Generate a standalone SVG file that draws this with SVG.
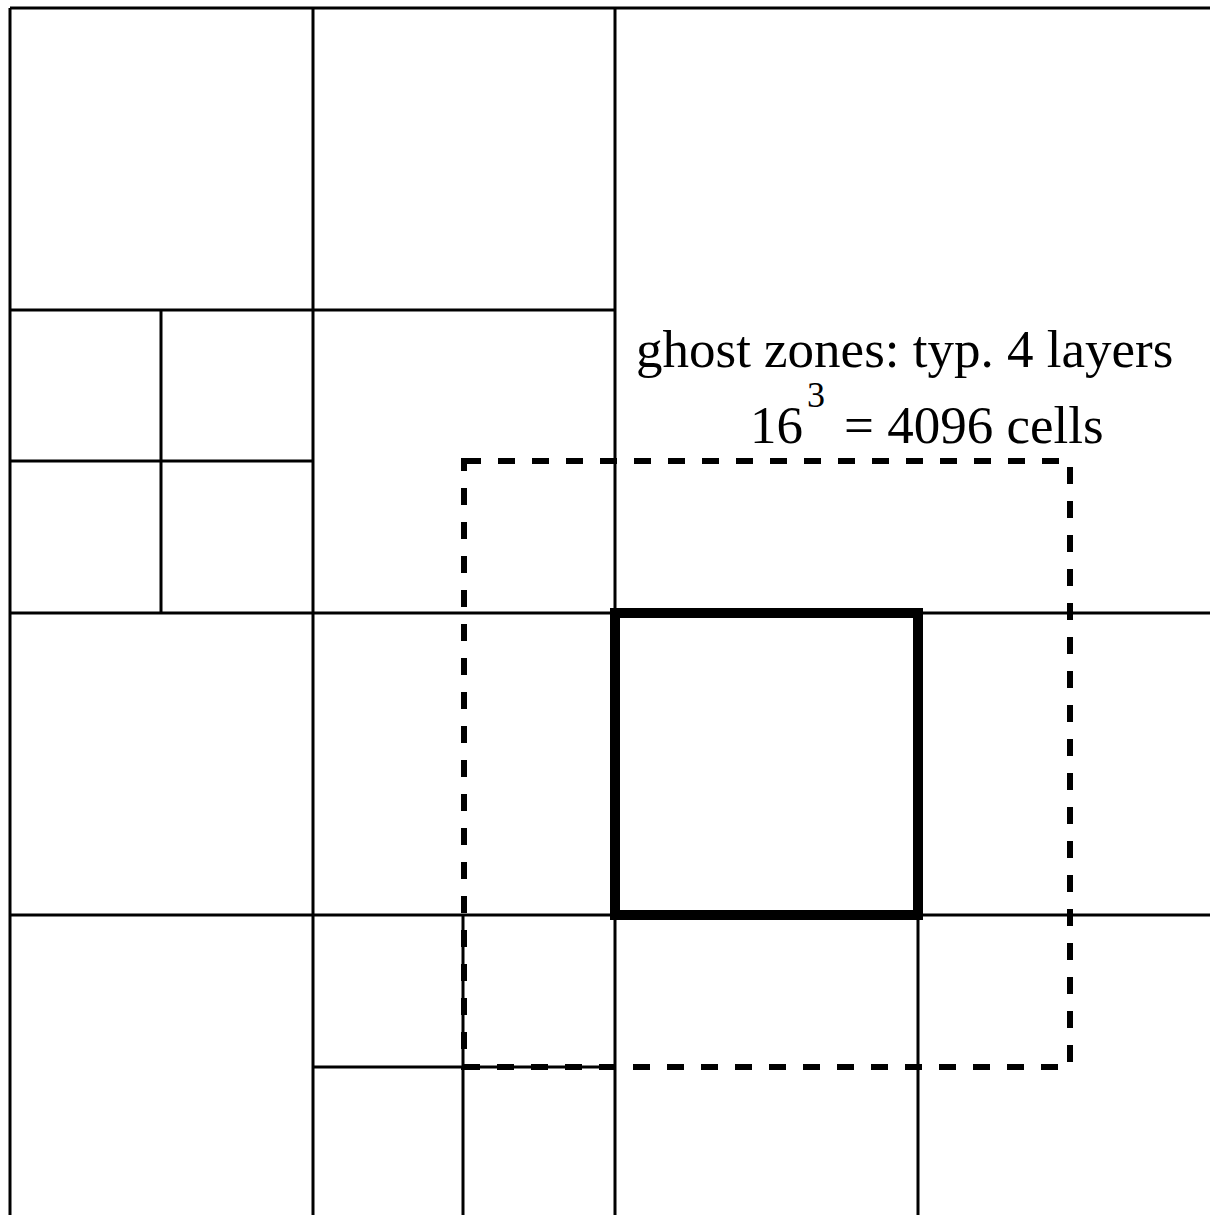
<svg xmlns="http://www.w3.org/2000/svg" width="1210" height="1215" viewBox="0 0 1210 1215">
<style>
.g{stroke:#000;stroke-width:3;fill:none}
.thick{stroke:#000;stroke-width:10;fill:none}
.dash{stroke:#000;stroke-width:6;fill:none;stroke-dasharray:17 17}
.t{font-family:"Liberation Serif","Times New Roman",serif;font-size:53px;fill:#000}
.sup{font-family:"Liberation Serif","Times New Roman",serif;font-size:36px;fill:#000}
</style>
<rect width="1210" height="1215" fill="#fff"/>
<g id="grid">
<path class="g" d="M10,8 H1210 M10,8 V1215 M313,8 V1215 M615,8 V1215 M918,915 V1215 M161,310 V613 M463,915 V1215 M10,310 H615 M10,461 H313 M10,613 H1210 M10,915 H1210 M313,1067 H615"/>
</g>
<g id="ghost-zone">
<path class="dash" d="M464,461 H1070 V1067 H464 Z"/>
</g>
<g id="block">
<rect class="thick" x="615" y="613" width="303" height="302"/>
</g>
<g id="label">
<text class="t" x="636" y="367">ghost zones: typ. 4 layers</text>
<text class="t" x="750" y="443">16</text>
<text class="sup" x="807" y="407">3</text>
<text class="t" x="844" y="443">= 4096 cells</text>
</g>
</svg>
